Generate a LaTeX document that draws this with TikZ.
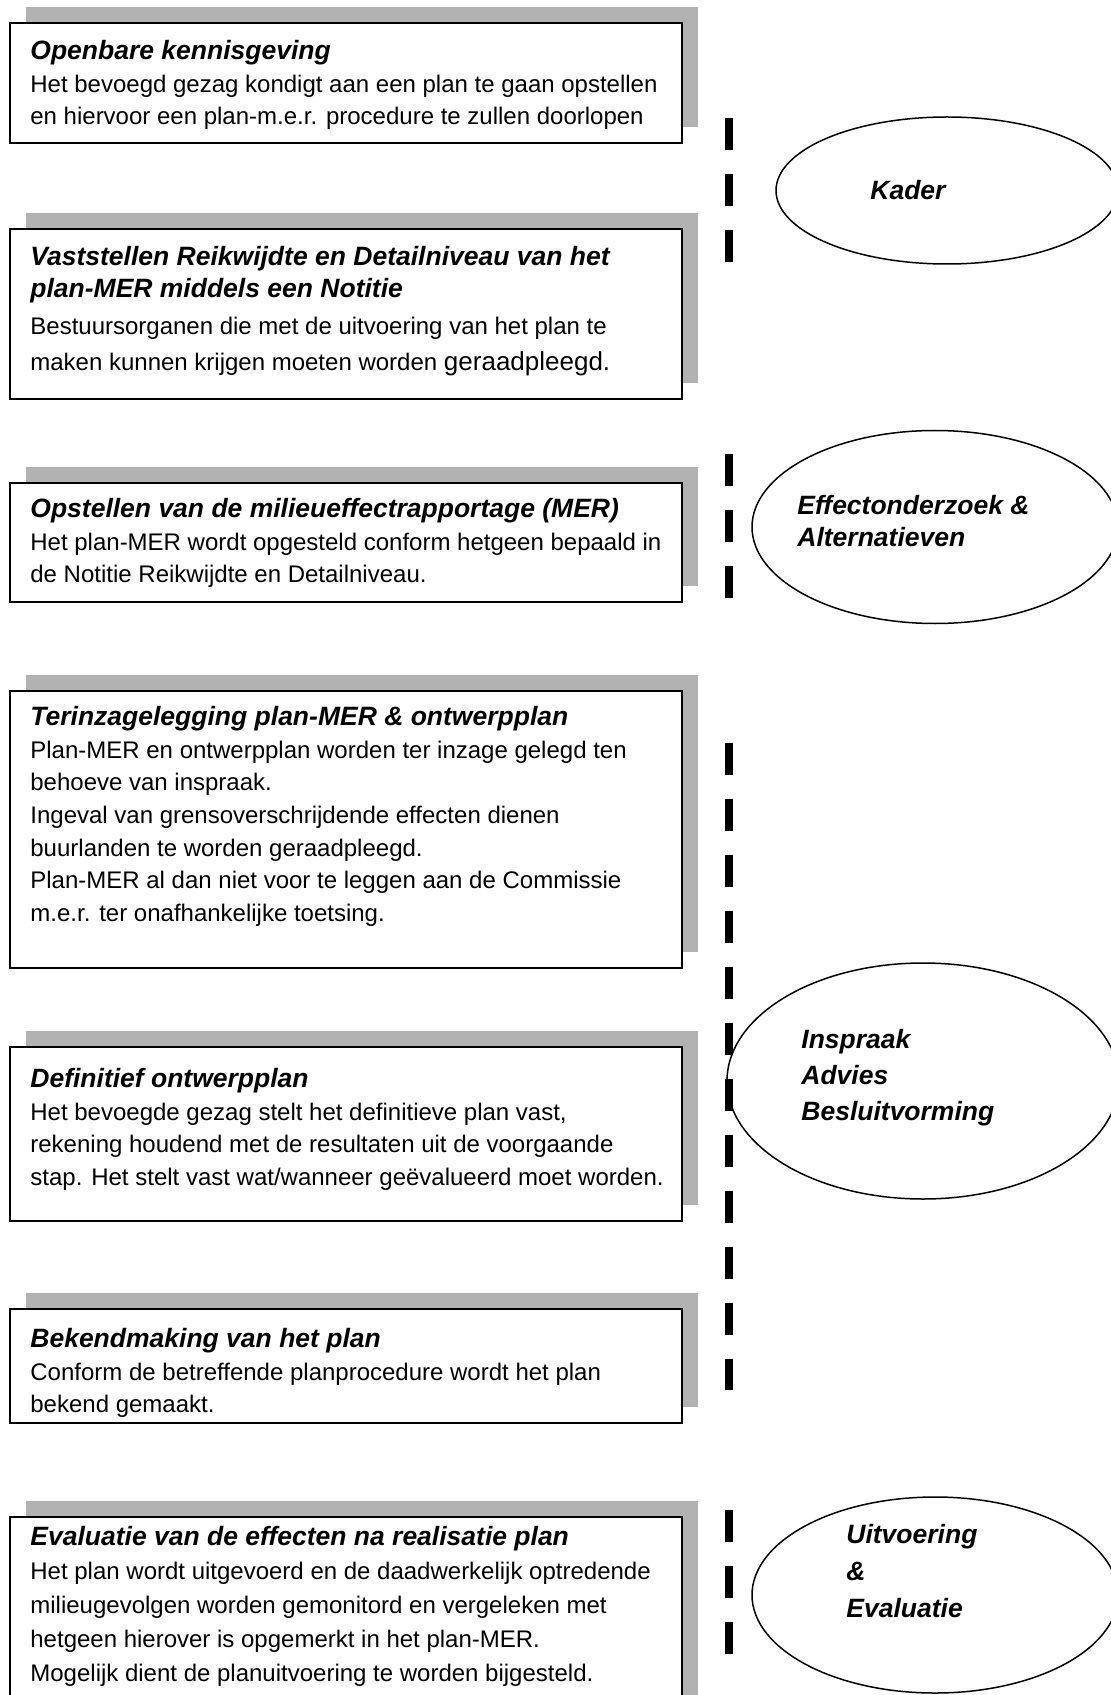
\documentclass[tikz,border=0pt]{standalone}
\usepackage{fontspec}
\setmainfont{Liberation Sans}
\usetikzlibrary{shapes.geometric, shadows, positioning}

\newcommand{\steptitle}[1]{{\fontsize{13.25}{16.3}\selectfont\bfseries\itshape #1}}

\begin{document}
\begin{tikzpicture}[x=0.5pt,y=-0.5pt,
  stepbox/.style={rectangle,draw=black,line width=1pt,fill=white,minimum width=336pt,inner sep=0pt,anchor=north west,
    drop shadow={shadow xshift=8pt,shadow yshift=8pt,fill=black!30,opacity=1}},
  steptxt/.style={anchor=north west,inner sep=0pt,align=left,font=\fontsize{12}{16.3}\selectfont},
  phase/.style={ellipse,draw=black,line width=0.75pt,inner sep=0pt},
  phasetxt/.style={anchor=base west,inner sep=0pt,align=left,font=\fontsize{13.25}{16}\selectfont\bfseries\itshape},
  phaseline/.style={line width=4pt,dash pattern=on 16pt off 12pt}
]
  \clip (0,0) rectangle (1111,1695);
  \fill[white] (0,0) rectangle (1111,1695);

  % stappen
  \node[stepbox,minimum height=60pt]   (b1) at (9,22)   {};
  \node[stepbox,minimum height=85pt]   (b2) at (9,228)  {};
  \node[stepbox,minimum height=59.5pt] (b3) at (9,482)  {};
  \node[stepbox,minimum height=138.5pt](b4) at (9,690)  {};
  \node[stepbox,minimum height=87pt]   (b5) at (9,1046) {};
  \node[stepbox,minimum height=57pt]   (b6) at (9,1308) {};
  \node[stepbox,minimum height=100pt]  (b7) at (9,1516) {};

  \node[steptxt] (t1) at ([xshift=10.5pt,yshift=-9pt]b1.north west)
    {\steptitle{Openbare kennisgeving}\\
     Het bevoegd gezag kondigt aan een plan te gaan opstellen\\
     en hiervoor een plan-m.e.r. procedure te zullen doorlopen};
  \node[steptxt] (t2) at ([xshift=10.5pt,yshift=-9pt]b2.north west)
    {\steptitle{Vaststellen Reikwijdte en Detailniveau van het}\\[-0.6pt]
     \steptitle{plan-MER middels een Notitie}\\[2.6pt]
     Bestuursorganen die met de uitvoering van het plan te\\[1.5pt]
     maken kunnen krijgen moeten worden {\fontsize{13}{16.3}\selectfont geraadpleegd.}};
  \node[steptxt] (t3) at ([xshift=10.5pt,yshift=-8pt]b3.north west)
    {\steptitle{Opstellen van de milieueffectrapportage (MER)}\\
     Het plan-MER wordt opgesteld conform hetgeen bepaald in\\
     de Notitie Reikwijdte en Detailniveau.};
  \node[steptxt] (t4) at ([xshift=10.5pt,yshift=-8pt]b4.north west)
    {\steptitle{Terinzagelegging plan-MER \& ontwerpplan}\\
     Plan-MER en ontwerpplan worden ter inzage gelegd ten\\
     behoeve van inspraak.\\
     Ingeval van grensoverschrijdende effecten dienen\\
     buurlanden te worden geraadpleegd.\\
     Plan-MER al dan niet voor te leggen aan de Commissie\\
     m.e.r. ter onafhankelijke toetsing.};
  \node[steptxt] (t5) at ([xshift=10.5pt,yshift=-11pt]b5.north west)
    {\steptitle{Definitief ontwerpplan}\\
     Het bevoegde gezag stelt het definitieve plan vast,\\
     rekening houdend met de resultaten uit de voorgaande\\
     stap. Het stelt vast wat/wanneer geëvalueerd moet worden.};
  \node[steptxt] (t6) at ([xshift=10.5pt,yshift=-10pt]b6.north west)
    {\steptitle{Bekendmaking van het plan}\\
     Conform de betreffende planprocedure wordt het plan\\
     bekend gemaakt.};
  \node[steptxt,font=\fontsize{12}{17}\selectfont] (t7) at ([xshift=10.5pt,yshift=-5pt]b7.north west)
    {\steptitle{Evaluatie van de effecten na realisatie plan}\\
     Het plan wordt uitgevoerd en de daadwerkelijk optredende\\
     milieugevolgen worden gemonitord en vergeleken met\\
     hetgeen hierover is opgemerkt in het plan-MER.\\
     Mogelijk dient de planuitvoering te worden bijgesteld.};

  % fasen
  \foreach \a/\b in {118/262,454/598,743/1390,1510/1654}
    \draw[phaseline] (729,\a) -- (729,\b);

  \node[phase,minimum width=171pt,minimum height=73.5pt] (kader) at (947,190.5) {};
  \node[phase,minimum width=183pt,minimum height=96.5pt] (effect) at (935,527) {};
  \node[phase,minimum width=196pt,minimum height=118pt] (inspraak) at (923,1081) {};
  \node[phase,minimum width=183pt,minimum height=98pt] (uitvoering) at (935,1595) {};

  \node[phasetxt] (kadertxt) at (870,200) {Kader};
  \node[phasetxt] (effecttxt) at (797,546) {Effectonderzoek \&\\Alternatieven};
  \node[phasetxt,font=\fontsize{13.25}{18}\selectfont\bfseries\itshape] (inspraaktxt) at (801,1120) {Inspraak\\Advies\\Besluitvorming};
  \node[phasetxt,font=\fontsize{13.25}{18.5}\selectfont\bfseries\itshape] (uitvoeringtxt) at (846,1617) {Uitvoering\\\&\\Evaluatie};
\end{tikzpicture}
\end{document}
